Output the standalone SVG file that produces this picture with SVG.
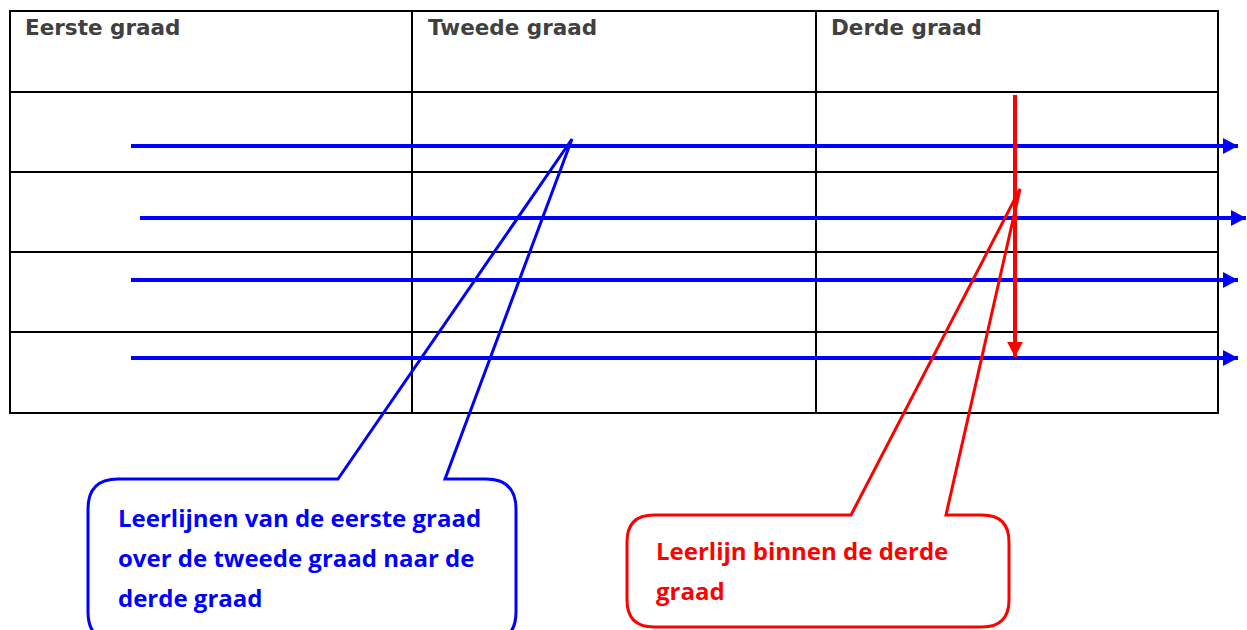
<svg xmlns="http://www.w3.org/2000/svg" width="1247" height="630" viewBox="0 0 1247 630">
<defs>
<style>
.grid{stroke:#000;stroke-width:2;fill:none}
.hdr{font-family:"DejaVu Sans",sans-serif;font-weight:bold;font-size:21.5px;fill:#404040}
.blue{stroke:#0000ff;stroke-width:3;fill:none}
.red{stroke:#ff0000;stroke-width:3;fill:none}
.arrow{stroke-width:4}
.bt{font-family:"Open Sans","Noto Sans",sans-serif;font-weight:bold;font-size:24px;fill:#0000ff}
.rt{font-family:"Open Sans","Noto Sans",sans-serif;font-weight:bold;font-size:24px;fill:#ff0000}
</style>
<marker id="ab" viewBox="0 0 10 10" refX="10" refY="5" markerWidth="3.8" markerHeight="4" markerUnits="strokeWidth" orient="auto" preserveAspectRatio="none"><path d="M0,0 L10,5 L0,10 z" fill="#0000ff"/></marker>
<marker id="ar" viewBox="0 0 10 10" refX="10" refY="5" markerWidth="3.8" markerHeight="4" markerUnits="strokeWidth" orient="auto" preserveAspectRatio="none"><path d="M0,0 L10,5 L0,10 z" fill="#ff0000"/></marker>
</defs>
<g id="table">
<rect class="grid" x="10" y="11" width="1208" height="402"/>
<line class="grid" x1="412" y1="11" x2="412" y2="413"/>
<line class="grid" x1="816" y1="11" x2="816" y2="413"/>
<line class="grid" x1="10" y1="92" x2="1218" y2="92"/>
<line class="grid" x1="10" y1="172" x2="1218" y2="172"/>
<line class="grid" x1="10" y1="252" x2="1218" y2="252"/>
<line class="grid" x1="10" y1="332" x2="1218" y2="332"/>
<text class="hdr" x="25" y="35">Eerste graad</text>
<text class="hdr" x="428" y="35">Tweede graad</text>
<text class="hdr" x="831" y="35">Derde graad</text>
</g>
<g id="connectors">
<line class="blue arrow" x1="131" y1="146" x2="1238" y2="146" marker-end="url(#ab)"/>
<line class="blue arrow" x1="140" y1="218" x2="1246" y2="218" marker-end="url(#ab)"/>
<line class="blue arrow" x1="131" y1="280" x2="1238" y2="280" marker-end="url(#ab)"/>
<line class="blue arrow" x1="131" y1="358" x2="1238" y2="358" marker-end="url(#ab)"/>
<line class="red arrow" x1="1015" y1="95" x2="1015" y2="357" marker-end="url(#ar)"/>
</g>
<g id="callout-blue">
<path class="blue" d="M338,479 L572,139 L445,479 L486,479 Q516,479 516,509 L516,612 Q516,642 486,642 L118,642 Q88,642 88,612 L88,509 Q88,479 118,479 Z"/>
<text class="bt" x="118" y="527">Leerlijnen van de eerste graad</text>
<text class="bt" x="118" y="567">over de tweede graad naar de</text>
<text class="bt" x="118" y="607">derde graad</text>
</g>
<g id="callout-red">
<path class="red" d="M851,515 L1020,189 L946,515 L982,515 Q1009,515 1009,542 L1009,600 Q1009,627 982,627 L654,627 Q627,627 627,600 L627,542 Q627,515 654,515 Z"/>
<text class="rt" x="656" y="560">Leerlijn binnen de derde</text>
<text class="rt" x="656" y="600">graad</text>
</g>
</svg>
